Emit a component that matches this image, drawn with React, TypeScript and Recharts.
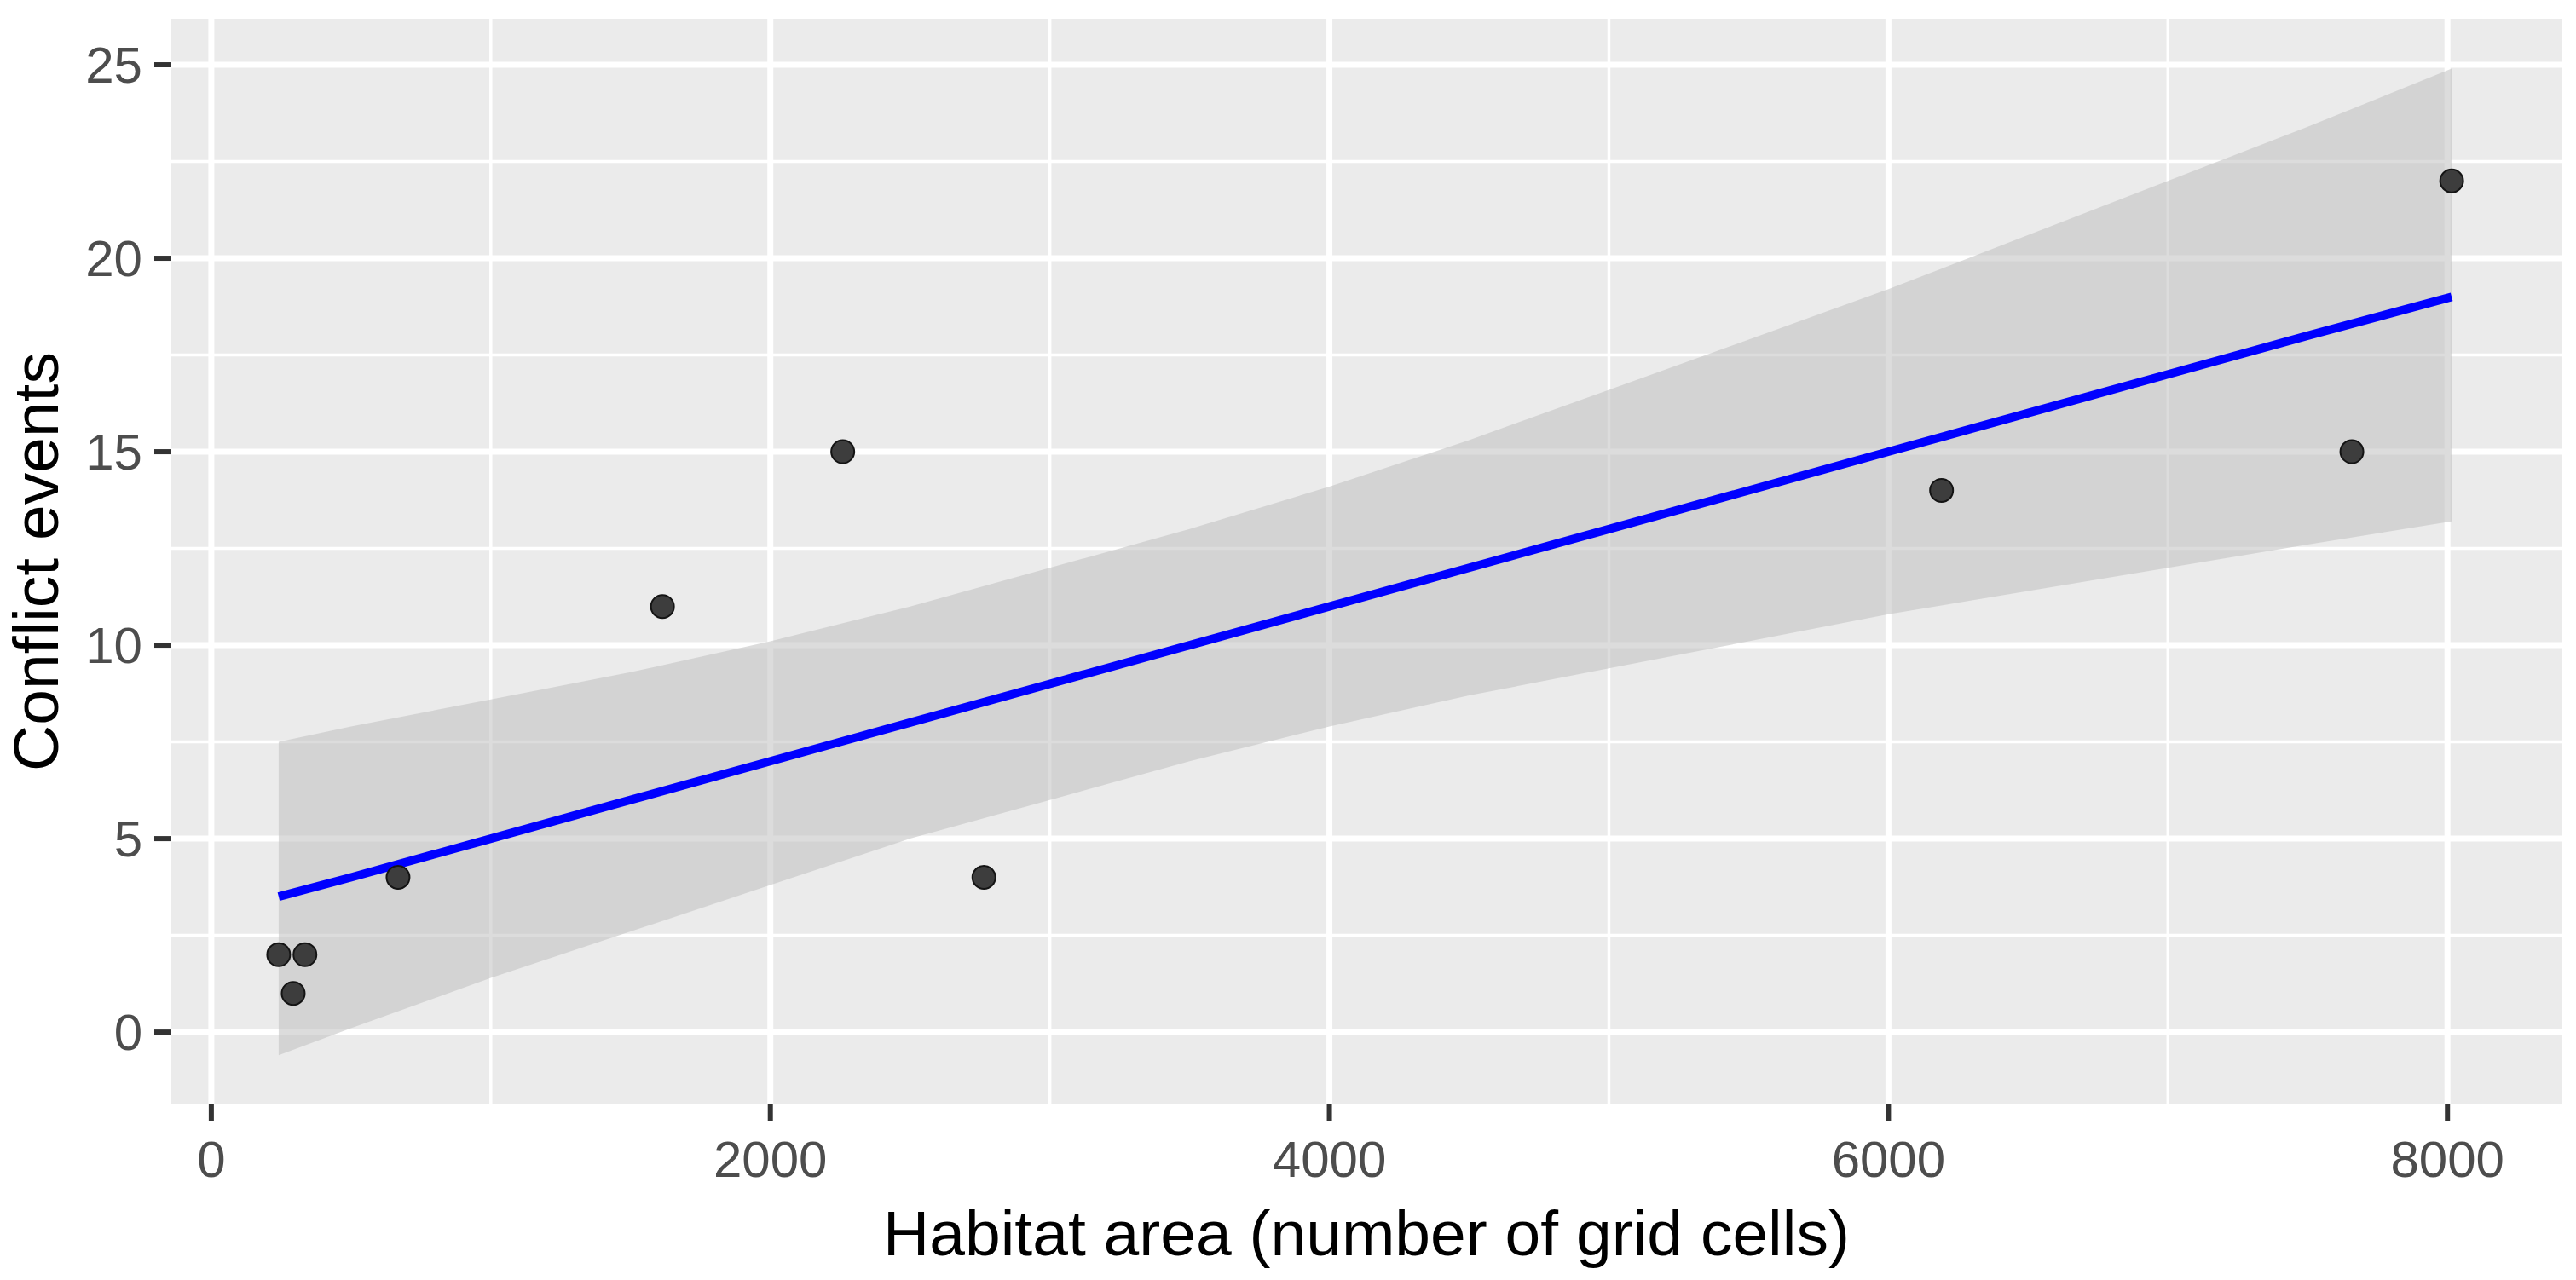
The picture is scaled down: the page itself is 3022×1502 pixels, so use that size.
import React from "react";
import {
  ComposedChart,
  Area,
  Line,
  Scatter,
  XAxis,
  YAxis,
  CartesianGrid,
} from "recharts";

// observed sites
const habitatArea = [241, 293, 335, 668, 1614, 2259, 2764, 6190, 7658, 8015];
const conflictEvents = [2, 1, 2, 4, 11, 15, 4, 14, 15, 22];

// fitted line + 95% band
const fitX = [241, 500, 1000, 1500, 2000, 2500, 3000, 3500, 4000, 4500, 5000, 5500, 6000, 6500, 7000, 7500, 8015];
const fitY = [3.5, 4.0, 5.0, 6.0, 7.0, 8.0, 9.0, 10.0, 11.0, 12.0, 13.0, 14.0, 15.0, 16.0, 17.0, 18.0, 19.0];
const bandLow = [-0.6, 0.1, 1.4, 2.6, 3.8, 5.0, 6.0, 7.0, 7.9, 8.7, 9.4, 10.1, 10.8, 11.4, 12.0, 12.6, 13.2];
const bandHigh = [7.5, 7.9, 8.6, 9.3, 10.1, 11.0, 12.0, 13.0, 14.1, 15.3, 16.6, 17.9, 19.2, 20.6, 22.0, 23.4, 24.9];

const xTicks = [0, 2000, 4000, 6000, 8000];
const yTicks = [0, 5, 10, 15, 20, 25];
const xMinor = [1000, 3000, 5000, 7000];
const yMinor = [2.5, 7.5, 12.5, 17.5, 22.5];

const points = habitatArea.map((x, i) => ({ x, y: conflictEvents[i] }));
const band = fitX.map((x, i) => ({ x, fit: fitY[i], band: [bandLow[i], bandHigh[i]] }));

const FONT = "'Liberation Sans', Arial, sans-serif";

function XTitle({ viewBox }: any) {
  if (!viewBox) return null;
  const { x, y, width } = viewBox;
  return (
    <text x={x + width / 2} y={y + 177} textAnchor="middle" fontSize={75} fontFamily={FONT} fill="#000">
      Habitat area (number of grid cells)
    </text>
  );
}

function YTitle({ viewBox }: any) {
  if (!viewBox) return null;
  const { x, y, height } = viewBox;
  const cx = x + 68;
  const cy = y + height / 2;
  return (
    <text x={cx} y={cy} transform={`rotate(-90, ${cx}, ${cy})`} textAnchor="middle" fontSize={75} fontFamily={FONT} fill="#000">
      Conflict events
    </text>
  );
}

function Dot(props: any) {
  const { cx, cy } = props;
  if (cx == null || cy == null) return null;
  return <circle cx={cx} cy={cy} r={13.5} fill="#3d3d3d" stroke="#141414" strokeWidth={2} />;
}

export default function App() {
  const tickStyle = { fill: "#4D4D4D", fontSize: 60, fontFamily: FONT };
  return (
    <div style={{ width: 3022, height: 1502, background: "#fff" }}>
      <style>{"body{margin:0}"}</style>
      <ComposedChart width={3022} height={1502} margin={{ top: 22, right: 17, bottom: 0, left: 0 }}>
        <CartesianGrid
          fill="#EBEBEB"
          fillOpacity={1}
          stroke="#FFFFFF"
          strokeWidth={3.5}
          horizontalValues={yMinor}
          verticalValues={xMinor}
        />
        <CartesianGrid stroke="#FFFFFF" strokeWidth={7} horizontalValues={yTicks} verticalValues={xTicks} />
        <XAxis
          type="number"
          dataKey="x"
          domain={[-143, 8408]}
          allowDataOverflow
          ticks={xTicks}
          height={206}
          axisLine={false}
          tickSize={20}
          tickMargin={22}
          tickLine={{ stroke: "#333333", strokeWidth: 6 }}
          tick={tickStyle}
          label={<XTitle />}
        />
        <YAxis
          type="number"
          domain={[-1.87, 26.19]}
          allowDataOverflow
          ticks={yTicks}
          width={201}
          axisLine={false}
          tickSize={20}
          tickMargin={14}
          tickLine={{ stroke: "#333333", strokeWidth: 6 }}
          tick={tickStyle}
          label={<YTitle />}
        />
        <Area
          data={band}
          dataKey="band"
          type="linear"
          stroke="none"
          fill="#bfbfbf"
          fillOpacity={0.55}
          isAnimationActive={false}
        />
        <Line
          data={band}
          dataKey="fit"
          type="linear"
          stroke="#0000FF"
          strokeWidth={10}
          dot={false}
          isAnimationActive={false}
        />
        <Scatter data={points} dataKey="y" shape={<Dot />} isAnimationActive={false} />
      </ComposedChart>
    </div>
  );
}
